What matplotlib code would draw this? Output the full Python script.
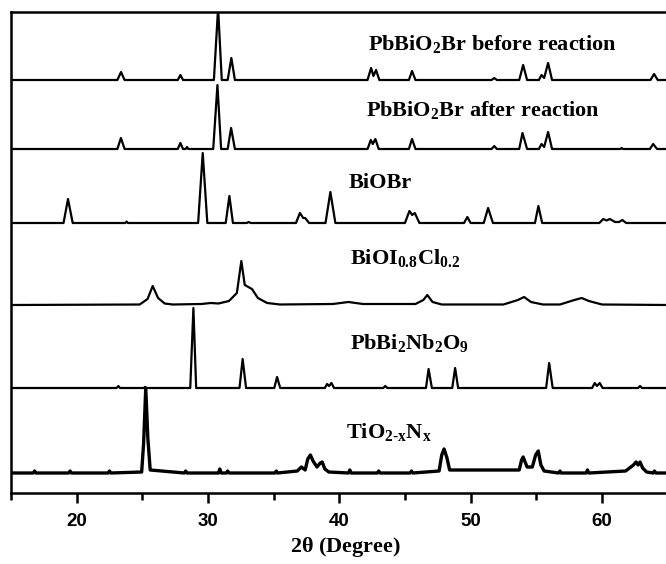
import numpy as np
import matplotlib
matplotlib.use("Agg")
import matplotlib.pyplot as plt

# XRD patterns: 2theta (deg) and intensity above each baseline (a.u.)
tt_before = [15, 23.1, 23.38, 23.65, 27.7, 27.9, 28.1, 30.45, 30.77, 31.05, 31.5, 31.78, 32.05,
             42.15, 42.42, 42.6, 42.8, 43.05, 45.3, 45.54, 45.8, 51.6, 51.8, 52.0,
             53.7, 54.0, 54.3, 55.2, 55.4, 55.6, 55.9, 56.2, 63.7, 63.97, 64.25, 65]
i_before = [0, 0, 8, 0, 0, 5, 0, 0, 72, 0, 0, 22, 0,
            0, 12, 4, 10, 0, 0, 9, 0, 0, 2, 0,
            0, 15, 0, 0, 5, 2, 17, 0, 0, 6, 0, 0]

tt_after = [15, 23.1, 23.37, 23.65, 27.7, 27.9, 28.1, 28.3, 28.4, 28.5, 30.4, 30.72, 31.0,
            31.5, 31.76, 32.05, 42.15, 42.4, 42.55, 42.75, 43.0, 45.3, 45.54, 45.8,
            51.6, 51.8, 52.0, 53.7, 53.95, 54.3, 55.2, 55.4, 55.6, 55.9, 56.2,
            61.4, 61.5, 61.6, 63.65, 63.9, 64.2, 65]
i_after = [0, 0, 11, 0, 0, 6, 0, 0, 2, 0, 0, 64, 0,
           0, 21, 0, 0, 9, 5, 10, 0, 0, 10, 0,
           0, 3, 0, 0, 16, 0, 0, 5, 2, 17, 0,
           0, 1, 0, 0, 5, 0, 0]

tt_biobr = [15, 19.0, 19.34, 19.7, 23.7, 23.8, 23.9, 29.25, 29.6, 29.95, 31.35, 31.63, 31.9,
            32.95, 33.1, 33.25, 36.7, 37.0, 37.25, 37.4, 37.7, 38.95, 39.32, 39.7,
            45.0, 45.34, 45.55, 45.75, 46.1, 49.5, 49.75, 50.0, 51.0, 51.33, 51.7,
            54.9, 55.16, 55.45, 59.8, 60.1, 60.35, 60.6, 61.0, 61.3, 61.55, 61.85, 65]
i_biobr = [0, 0, 24, 0, 0, 1.5, 0, 0, 70, 0, 0, 27, 0,
           0, 1, 0, 0, 10, 5, 5, 0, 0, 31, 0,
           0, 12, 8, 10, 0, 0, 6, 0, 0, 15, 0,
           0, 17, 0, 0, 4, 2.5, 4, 1, 1, 3, 0, 0]

tt_bioi = [15, 24.8, 25.4, 25.79, 26.2, 26.7, 27.3, 29.5, 30.2, 30.8,
           31.6, 32.2, 32.54, 32.8, 33.35, 33.8, 34.5, 35.5, 39.5, 40.7, 41.8,
           45.8, 46.4, 46.7, 47.1, 47.8, 52.5, 53.6, 54.07, 54.6, 55.5,
           56.8, 57.9, 58.46, 59.0, 60.0, 65]
i_bioi = [0, 0.5, 6, 19, 7, 1.5, 0.5, 1, 2, 1.5,
          4, 12, 44, 20, 16, 7, 2, 0.5, 1, 3, 1,
          1, 5, 10, 3, 0.5, 0.5, 5, 8, 3, 0.5,
          0.5, 5, 7, 4, 0.5, 0]

tt_pbnb = [15, 23.05, 23.17, 23.3, 25.1, 25.2, 25.3, 28.65, 28.89, 29.1, 32.4, 32.64, 32.9,
           35.05, 35.26, 35.5, 38.9, 39.07, 39.22, 39.4, 39.6, 43.35, 43.5, 43.65,
           46.6, 46.8, 47.05, 48.6, 48.82, 49.05, 55.75, 55.98, 56.25,
           59.25, 59.45, 59.62, 59.83, 60.05, 62.75, 62.9, 63.05, 65]
i_pbnb = [0, 0, 2, 0, 0, 1, 0, 0, 80, 0, 0, 29, 0,
          0, 11, 0, 0, 4, 2, 5, 0, 0, 2, 0,
          0, 19, 0, 0, 20, 0, 0, 25, 0,
          0, 5, 2, 5, 0, 0, 2, 0, 0]

tt_tio2 = [15, 16.7, 16.8, 16.9, 19.4, 19.5, 19.6, 22.4, 22.5, 22.6,
           24.95, 25.1, 25.26, 25.42, 25.6, 28.2, 28.3, 28.4, 30.8, 30.9, 31.0, 31.4, 31.5, 31.6,
           35.1, 35.2, 35.3, 36.8, 37.11, 37.4, 37.6, 37.8, 38.0, 38.3, 38.55, 38.7, 38.9, 39.2,
           40.7, 40.8, 40.9, 42.9, 43.0, 43.1, 45.4, 45.5, 45.6,
           47.6, 47.8, 47.98, 48.2, 48.4, 53.7, 53.88, 54.0, 54.3, 54.7, 54.95, 55.15, 55.35, 55.6,
           56.7, 56.8, 56.9, 58.8, 58.9, 59.0, 61.8, 62.4, 62.6, 62.75, 62.9, 63.1, 63.4,
           63.9, 64.0, 64.1, 65]
i_tio2 = [0, 0, 2, 0, 0, 2, 0, 0, 2, 0,
          1, 30, 85, 35, 3, 0, 2, 0, 0, 4, 0, 0, 2, 0,
          0, 2, 0, 2, 6, 3, 14, 18, 12, 6, 10, 11, 4, 1,
          0, 3, 0, 0, 2, 0, 0, 2, 0,
          2, 18, 24, 15, 3, 3, 13, 16, 6, 6, 18, 22, 8, 2,
          0, 2, 0, 0, 3, 0, 2, 8, 11, 8, 11, 5, 1,
          0, 2, 0, 0]

labels = [r'PbBiO$_{2}$Br before reaction', r'PbBiO$_{2}$Br after reaction', 'BiOBr',
          r'BiOI$_{0.8}$Cl$_{0.2}$', r'PbBi$_{2}$Nb$_{2}$O$_{9}$', r'TiO$_{2\text{-}x}$N$_{x}$']

# Step 1: layout of the stack (baselines and label spots, in axis units)
traces = [(tt_before, i_before), (tt_after, i_after), (tt_biobr, i_biobr),
          (tt_bioi, i_bioi), (tt_pbnb, i_pbnb), (tt_tio2, i_tio2)]
offsets = [413, 344, 270, 188, 105, 20]
label_x = [42.2, 42.0, 40.7, 40.8, 40.8, 40.5]
label_y = [449, 383, 310, 235, 150, 61]
widths = [1.6, 1.6, 1.6, 1.6, 1.6, 2.4]

plt.rcParams['mathtext.fontset'] = 'custom'
plt.rcParams['mathtext.rm'] = 'Liberation Serif:bold'
plt.rcParams['mathtext.it'] = 'Liberation Serif:bold'
plt.rcParams['mathtext.bf'] = 'Liberation Serif:bold'

fig = plt.figure(figsize=(6.66, 5.64), dpi=100)
ax = fig.add_axes([11 / 666, 71 / 564, 656.6 / 666, 481 / 564])

# Step 2: draw the patterns
for (tt, inten), off, lw in zip(traces, offsets, widths):
    ax.plot(tt, np.array(inten) + off, color='black', lw=lw, solid_joinstyle='round')

for lab, lx, ly in zip(labels, label_x, label_y):
    ax.text(lx, ly, lab, fontsize=16, fontweight='bold', family='Liberation Serif',
            va='center', ha='left')

# Step 3: axes cosmetics
ax.set_xlim(15, 65)
ax.set_ylim(0, 481)
ax.set_yticks([])
ax.set_xticks([20, 30, 40, 50, 60])
ax.set_xticks([15, 25, 35, 45, 55, 65], minor=True)
ax.tick_params(axis='x', which='major', direction='out', length=7.5, width=1.8, pad=7,
               labelsize=13.5)
ax.tick_params(axis='x', which='minor', direction='out', length=5, width=1.8)
for lab in ax.get_xticklabels():
    lab.set_family('Liberation Sans')
    lab.set_fontweight('bold')
for side in ['left', 'top', 'bottom']:
    ax.spines[side].set_linewidth(1.8)
ax.spines['right'].set_visible(False)

ax.set_xlabel(r'2$\theta$ (Degree)', fontsize=16, fontweight='bold', family='Liberation Serif')
ax.xaxis.set_label_coords(0.51, -0.088)

plt.savefig("out.png", dpi=100)
